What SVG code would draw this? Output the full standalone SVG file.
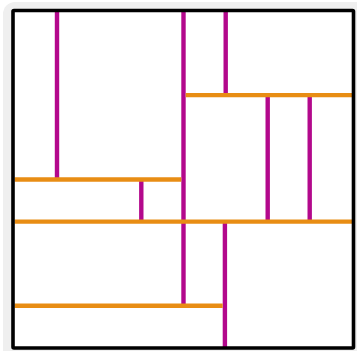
<svg xmlns="http://www.w3.org/2000/svg" width="357" height="351" viewBox="0 0 357 351">
<style>
.v{stroke:#b3088c;stroke-width:4.4;fill:none}
.h{stroke:#e88d14;stroke-width:4.4;fill:none}
</style>
<rect x="0" y="0" width="357" height="351" fill="#ffffff"/>
<rect x="3" y="2" width="370" height="370" rx="12" fill="#efefef"/>
<g id="frame">
<rect x="13" y="10.5" width="340.5" height="337.5" fill="#ffffff" stroke="none"/>
</g>
<g id="connectors">
<line class="v" x1="57" y1="10.5" x2="57" y2="179.5"/>
<line class="v" x1="183.5" y1="10.5" x2="183.5" y2="305.8"/>
<line class="v" x1="225.7" y1="10.5" x2="225.7" y2="95"/>
<line class="v" x1="267.7" y1="95" x2="267.7" y2="221.5"/>
<line class="v" x1="309.7" y1="95" x2="309.7" y2="221.5"/>
<line class="v" x1="141.3" y1="179.5" x2="141.3" y2="221.5"/>
<line class="v" x1="224.9" y1="221.5" x2="224.9" y2="348"/>
<line class="h" x1="185.7" y1="95.1" x2="353" y2="95.1"/>
<line class="h" x1="14.5" y1="179.5" x2="181.3" y2="179.5"/>
<line class="h" x1="14.5" y1="221.6" x2="353" y2="221.6"/>
<line class="h" x1="14.5" y1="305.8" x2="222.7" y2="305.8"/>
</g>
<g id="border">
<rect x="13" y="10.5" width="340.5" height="337.5" fill="none" stroke="#000000" stroke-width="3.6" rx="1"/>
</g>
</svg>
